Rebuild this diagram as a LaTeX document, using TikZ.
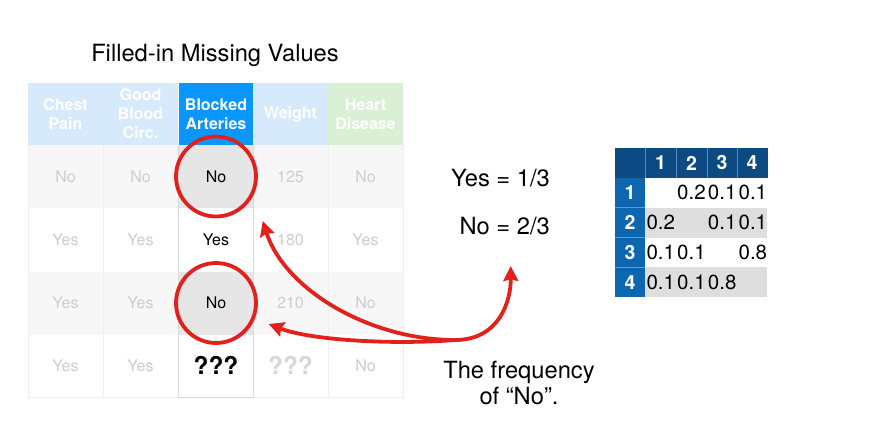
\documentclass[tikz,border=0pt]{standalone}
\usepackage{fontspec}
\setmainfont{TeX Gyre Heros}
\usetikzlibrary{arrows.meta,calc}

\definecolor{hdrlight}{HTML}{D6EAFB}
\definecolor{hdrblue}{HTML}{0A96FF}
\definecolor{hdrgreen}{HTML}{D9F0D4}
\definecolor{fadetext}{HTML}{CDCDCD}
\definecolor{rowgrey}{HTML}{F7F7F7}
\definecolor{cellgrey}{HTML}{E6E6E6}
\definecolor{gridline}{HTML}{EEEEEE}
\definecolor{colline}{HTML}{DADADA}
\definecolor{ringred}{HTML}{E2211C}
\definecolor{navy}{HTML}{0B4A82}
\definecolor{sideblue}{HTML}{0D66B0}
\definecolor{matgrey}{HTML}{DEDEDF}

\tikzset{
  hcell/.style={minimum width=75pt, minimum height=62pt, inner sep=0pt, align=center,
    font=\fontsize{16}{19}\selectfont\bfseries, text=white},
  cell/.style={minimum width=75pt, minimum height=63pt, inner sep=0pt,
    font=\fontsize{16}{19}\selectfont, text=fadetext},
  keycell/.style={cell, text=black},
  ring/.style={draw=ringred, line width=3.8pt, circle, minimum size=80pt, inner sep=0pt},
  redarrow/.style={draw=ringred, line width=3.8pt, >={Stealth[length=15pt, width=15pt, inset=2pt]}},
  bigtext/.style={font=\fontsize{23.7}{27}\selectfont, inner sep=0pt},
  mhead/.style={minimum width=31pt, minimum height=29.8pt, inner sep=0pt, fill=navy,
    text=white, font=\fontsize{19.5}{19.5}\selectfont\bfseries},
  mside/.style={minimum width=30pt, minimum height=29.8pt, inner sep=0pt, fill=sideblue,
    text=white, font=\fontsize{19.5}{19.5}\selectfont\bfseries},
  mcell/.style={text width=31pt, inner xsep=0pt, inner ysep=0pt, minimum height=29.8pt,
    align=left, font=\fontsize{20.5}{20.5}\selectfont},
}

\begin{document}
\begin{tikzpicture}[x=1pt, y=-1pt]
\useasboundingbox (0,0) rectangle (874,434);
\fill[white] (0,0) rectangle (874,434);

% title
\node[bigtext] (title) at (215,55) {Filled-in Missing Values};

% header row
\node[hcell, fill=hdrlight] (h1) at (65.5,114) {Chest\\Pain};
\node[hcell, fill=hdrlight] (h2) at (140.5,114) {Good\\Blood\\Circ.};
\node[hcell, fill=hdrblue]  (h3) at (216,114) {Blocked\\Arteries};
\node[hcell, fill=hdrlight] (h4) at (290.5,114) {Weight};
\node[hcell, fill=hdrgreen] (h5) at (365.5,114) {Heart\\Disease};

% row 1
\node[cell, fill=rowgrey] (r1c1) at (65.5,176.5) {No};
\node[cell, fill=rowgrey] (r1c2) at (140.5,176.5) {No};
\node[keycell, fill=cellgrey] (r1c3) at (216,176.5) {No};
\node[cell, fill=rowgrey] (r1c4) at (290.5,176.5) {125};
\node[cell, fill=rowgrey] (r1c5) at (365.5,176.5) {No};
% row 2
\node[cell] (r2c1) at (65.5,240) {Yes};
\node[cell] (r2c2) at (140.5,240) {Yes};
\node[keycell] (r2c3) at (216,240) {Yes};
\node[cell] (r2c4) at (290.5,240) {180};
\node[cell] (r2c5) at (365.5,240) {Yes};
% row 3
\node[cell, fill=rowgrey] (r3c1) at (65.5,303) {Yes};
\node[cell, fill=rowgrey] (r3c2) at (140.5,303) {Yes};
\node[keycell, fill=cellgrey] (r3c3) at (216,303) {No};
\node[cell, fill=rowgrey] (r3c4) at (290.5,303) {210};
\node[cell, fill=rowgrey] (r3c5) at (365.5,303) {No};
% row 4
\node[cell] (r4c1) at (65.5,365.5) {Yes};
\node[cell] (r4c2) at (140.5,365.5) {Yes};
\node[keycell, font=\fontsize{24.5}{24.5}\selectfont\bfseries] (r4c3) at (216,365.5) {???};
\node[cell, font=\fontsize{24.5}{24.5}\selectfont\bfseries, text=fadetext!80] (r4c4) at (290.5,365.5) {???};
\node[cell] (r4c5) at (365.5,365.5) {No};

% faint grid of the table body
\foreach \x in {103,178,253,328}
  \draw[gridline, line width=0.6pt] (\x,145) -- (\x,397);
\draw[gridline, line width=0.6pt] (28,145) -- (28,397) -- (403,397) -- (403,145);
% edges of the Blocked Arteries column
\draw[colline, line width=0.7pt] (r1c3.north west) -- (r4c3.south west) -- (r4c3.south east) -- (r1c3.north east);

% rings round the known values
\node[ring] (ring1) at (r1c3) {};
\node[ring] (ring3) at (r3c3) {};

% frequencies
\node[bigtext, anchor=east] (yesfreq) at (550,178) {Yes = 1/3};
\node[bigtext, anchor=east] (nofreq) at (550,226) {No = 2/3};
\node[bigtext, align=center, font=\fontsize{23.7}{26}\selectfont] (note) at (519,383) {The frequency\\of “No”.};

% arrows
\coordinate (hub) at (455,340);
\coordinate (toYes) at ($(r2c3.east)+(9,-19)$);
\coordinate (toNo) at ($(r3c3.east)+(15,21)$);
\coordinate (toFreq) at ($(nofreq.south)+(6,31)$);
\draw[redarrow, <->] (toYes) .. controls (285,290) and (370,340) .. (hub)
  .. controls (500,340) and (511,300) .. (toFreq);
\draw[redarrow, ->] (hub) .. controls (390,345) and (310,340) .. (toNo);

% distance matrix
\node[mhead, minimum width=30pt] (m00) at (630,163) {};
\foreach \j/\x in {1/660.5, 2/691.5, 3/722, 4/752}
  \node[mhead] (m0\j) at (\x,163) {\j};
\foreach \i/\y in {1/192.8, 2/222.6, 3/252.4, 4/282.2}
  \node[mside] (m\i0) at (630,\y) {\i};
\fill[matgrey] (645,207.7) rectangle (767,237.5);
\fill[matgrey] (645,267.3) rectangle (767,297.1);
\foreach \i/\y/\vals in {1/192.8/{{},0.2,0.1,0.1}, 2/222.6/{0.2,{},0.1,0.1},
                          3/252.4/{0.1,0.1,{},0.8}, 4/282.2/{0.1,0.1,0.8,{}}}{
  \foreach \v [count=\j] in \vals {
    \pgfmathsetmacro\cx{645+30.7*(\j-1)+17}
    \node[mcell] (m\i\j) at (\cx,\y) {\v};
  }
}
\foreach \x in {645,676,707,737}
  \draw[white, opacity=0.35, line width=0.5pt] (\x,148) -- (\x,177.9);
\foreach \y in {207.7,237.5,267.3}
  \draw[white, opacity=0.35, line width=0.5pt] (615,\y) -- (645,\y);
\end{tikzpicture}
\end{document}
